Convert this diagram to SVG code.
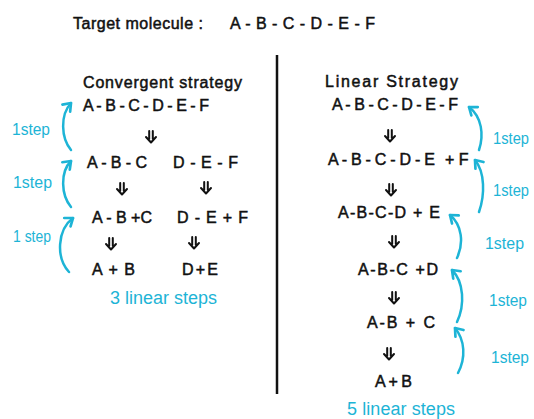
<svg xmlns="http://www.w3.org/2000/svg" xmlns:xlink="http://www.w3.org/1999/xlink" width="534" height="419" viewBox="0 0 534 419">
<style>
.t{font-family:"Liberation Sans",Arial,sans-serif;font-size:16px;fill:#111;stroke:#111;stroke-width:0.5}
.c{font-family:"Liberation Sans",Arial,sans-serif;font-size:17px;fill:#1db4d6}
.cs{font-family:"Liberation Sans",Arial,sans-serif;font-size:18px;fill:#1db4d6}
.arc{fill:none;stroke:#1db4d6;stroke-width:2.5;stroke-linecap:round;marker-end:url(#ah)}
.dbl{fill:none;stroke:#111;stroke-width:2;stroke-linecap:round;stroke-linejoin:round}
</style>
<defs>
<marker id="ah" markerUnits="userSpaceOnUse" markerWidth="14" markerHeight="14" viewBox="-8 -6 10 12" refX="0" refY="0" orient="auto">
<path d="M-6,-4.5 L0,0 L-6,4.5" fill="none" stroke="#1db4d6" stroke-width="2.3" stroke-linecap="round" stroke-linejoin="round"/>
</marker>
<path id="dbl" class="dbl" d="M-1.8,-6 V2 M1.8,-6 V2 M-5,0 L0,5.5 L5,0"/>
</defs>
<rect width="534" height="419" fill="#fff"/>

<g id="title">
<text class="t" x="73" y="29" textLength="130" lengthAdjust="spacing">Target molecule :</text>
<text class="t" x="230" y="29" textLength="145" lengthAdjust="spacing">A - B - C - D - E - F</text>
</g>

<g id="divider"><line x1="277" y1="55" x2="277" y2="394" stroke="#111" stroke-width="2.5"/></g>

<g id="convergent-header"><text class="t" x="83" y="88" textLength="159" lengthAdjust="spacing">Convergent strategy</text></g>
<g id="c-abcdef"><text class="t" x="83" y="111" textLength="126" lengthAdjust="spacing">A - B - C - D - E - F</text></g>
<g id="c-abc"><text class="t" x="87" y="168" textLength="60" lengthAdjust="spacing">A - B - C</text></g>
<g id="c-def"><text class="t" x="173" y="168" textLength="65" lengthAdjust="spacing">D - E - F</text></g>
<g id="c-ab-c"><text class="t" x="92" y="223" textLength="60" lengthAdjust="spacing">A - B +C</text></g>
<g id="c-de-f"><text class="t" x="177" y="223" textLength="71" lengthAdjust="spacing">D - E + F</text></g>
<g id="c-a-b"><text class="t" x="92" y="275" textLength="43" lengthAdjust="spacing">A + B</text></g>
<g id="c-d-e"><text class="t" x="182" y="275" textLength="36" lengthAdjust="spacing">D + E</text></g>
<g id="c-total"><text class="cs" x="110" y="304" textLength="107" lengthAdjust="spacing">3 linear steps</text></g>

<g id="linear-header"><text class="t" x="325" y="87" textLength="133" lengthAdjust="spacing">Linear Strategy</text></g>
<g id="l-abcdef"><text class="t" x="332" y="110" textLength="126" lengthAdjust="spacing">A - B - C - D - E - F</text></g>
<g id="l-abcde-f"><text class="t" x="328" y="165"><tspan textLength="107" lengthAdjust="spacing">A - B - C - D - E</tspan><tspan x="445">+ F</tspan></text></g>
<g id="l-abcd-e"><text class="t" x="338" y="218" textLength="102" lengthAdjust="spacing">A-B-C-D + E</text></g>
<g id="l-abc-d"><text class="t" x="358" y="275" textLength="80" lengthAdjust="spacing">A-B-C +D</text></g>
<g id="l-ab-c"><text class="t" x="367" y="328" textLength="68" lengthAdjust="spacing">A-B + C</text></g>
<g id="l-a-b"><text class="t" x="375" y="387" textLength="37" lengthAdjust="spacing">A + B</text></g>
<g id="l-total"><text class="cs" x="347" y="415" textLength="108" lengthAdjust="spacing">5 linear steps</text></g>

<g id="connectors">
<use xlink:href="#dbl" x="151" y="137"/>
<use xlink:href="#dbl" x="122" y="189"/>
<use xlink:href="#dbl" x="206" y="188"/>
<use xlink:href="#dbl" x="111" y="244"/>
<use xlink:href="#dbl" x="194" y="243"/>
<use xlink:href="#dbl" x="390" y="136"/>
<use xlink:href="#dbl" x="391" y="190"/>
<use xlink:href="#dbl" x="394" y="242"/>
<use xlink:href="#dbl" x="394" y="298"/>
<use xlink:href="#dbl" x="389" y="354"/>

<path class="arc" d="M71,150 C61,138 60,115 71,103"/>
<path class="arc" d="M71,207 C61,195 60,172 71,161"/>
<path class="arc" d="M69,272 C56,258 57,230 73,218"/>
<path class="arc" d="M479,150 C484,135 482,117 469,107"/>
<path class="arc" d="M479,212 C485,195 485,172 475,160"/>
<path class="arc" d="M457,258 C464,243 462,225 450,215"/>
<path class="arc" d="M457,322 C465,305 464,282 452,270"/>
<path class="arc" d="M458,373 C466,358 465,340 455,328"/>
</g>

<g id="step-labels">
<text class="c" x="12" y="135" textLength="38" lengthAdjust="spacingAndGlyphs">1step</text>
<text class="c" x="13" y="188" textLength="39" lengthAdjust="spacingAndGlyphs">1step</text>
<text class="c" x="13" y="242" textLength="38" lengthAdjust="spacingAndGlyphs">1 step</text>
<text class="c" x="493" y="144" textLength="36" lengthAdjust="spacingAndGlyphs">1step</text>
<text class="c" x="493" y="196" textLength="36" lengthAdjust="spacingAndGlyphs">1step</text>
<text class="c" x="485" y="249" textLength="39" lengthAdjust="spacingAndGlyphs">1step</text>
<text class="c" x="489" y="306" textLength="38" lengthAdjust="spacingAndGlyphs">1step</text>
<text class="c" x="491" y="363" textLength="38" lengthAdjust="spacingAndGlyphs">1step</text>
</g>
</svg>
